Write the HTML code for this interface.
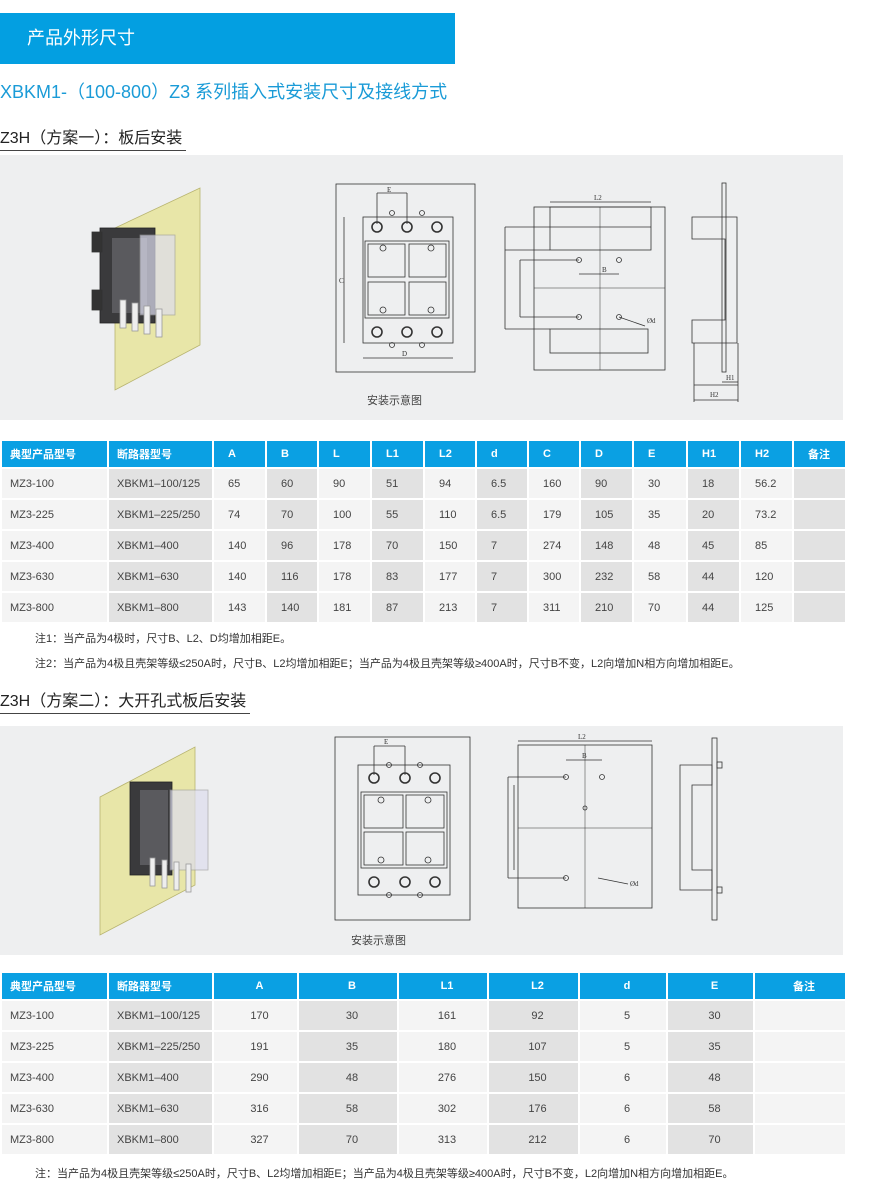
<!DOCTYPE html>
<html><head><meta charset="utf-8"><style>
body{margin:0;width:882px;height:1180px;background:#fff;position:relative;font-family:"Liberation Sans","Noto Sans CJK SC",sans-serif;overflow:hidden}
.a{position:absolute;white-space:nowrap}
.bar{left:0;top:13px;width:455px;height:51px;background:#039fe1;color:#fff;font-size:18px;line-height:51px;padding-left:27px;box-sizing:border-box}
.t{left:0;top:78px;color:#1a9bd7;font-size:18px}
.s{left:0;font-size:16px;color:#222;border-bottom:1px solid #444;padding-bottom:2px;padding-right:4px}
.p{left:0;width:843px;background:#eeeff0}
table{position:absolute;left:0;border-collapse:collapse;font-size:11px;color:#444;table-layout:fixed}
td,th{border:2px solid #fff;padding:0 0 0 8px;text-align:left;height:29px}
th{background:#0aa0e3;color:#fff;font-weight:bold;height:26px}
.t1 td:nth-child(n+3),.t1 th:nth-child(n+3){padding-left:14px}
td:nth-child(even){background:#e2e2e2}
td:nth-child(odd){background:#f4f4f4}
.n{left:35px;font-size:11px;color:#333}
</style></head><body>
<div class="a bar">产品外形尺寸</div>
<div class="a t">XBKM1-（100-800）Z3 系列插入式安装尺寸及接线方式</div>
<div class="a s" style="top:124px">Z3H（方案一）：板后安装</div>
<div class="a p" style="top:155px;height:265px"></div>
<div class="a" style="left:367px;top:392px;font-size:11px;color:#444">安装示意图</div>

<table class="t1" style="top:439px;width:845px">
<colgroup><col style="width:107px"><col style="width:105px"><col style="width:53px"><col style="width:52px"><col style="width:53px"><col style="width:53px"><col style="width:52px"><col style="width:52px"><col style="width:52px"><col style="width:53px"><col style="width:54px"><col style="width:53px"><col style="width:53px"><col style="width:53px"></colgroup>
<tr><th>典型产品型号</th><th>断路器型号</th><th>A</th><th>B</th><th>L</th><th>L1</th><th>L2</th><th>d</th><th>C</th><th>D</th><th>E</th><th>H1</th><th>H2</th><th>备注</th></tr>
<tr><td>MZ3-100</td><td>XBKM1–100/125</td><td>65</td><td>60</td><td>90</td><td>51</td><td>94</td><td>6.5</td><td>160</td><td>90</td><td>30</td><td>18</td><td>56.2</td><td></td></tr>
<tr><td>MZ3-225</td><td>XBKM1–225/250</td><td>74</td><td>70</td><td>100</td><td>55</td><td>110</td><td>6.5</td><td>179</td><td>105</td><td>35</td><td>20</td><td>73.2</td><td></td></tr>
<tr><td>MZ3-400</td><td>XBKM1–400</td><td>140</td><td>96</td><td>178</td><td>70</td><td>150</td><td>7</td><td>274</td><td>148</td><td>48</td><td>45</td><td>85</td><td></td></tr>
<tr><td>MZ3-630</td><td>XBKM1–630</td><td>140</td><td>116</td><td>178</td><td>83</td><td>177</td><td>7</td><td>300</td><td>232</td><td>58</td><td>44</td><td>120</td><td></td></tr>
<tr><td>MZ3-800</td><td>XBKM1–800</td><td>143</td><td>140</td><td>181</td><td>87</td><td>213</td><td>7</td><td>311</td><td>210</td><td>70</td><td>44</td><td>125</td><td></td></tr>
</table>
<div class="a n" style="top:630px">注1：当产品为4极时，尺寸B、L2、D均增加相距E。</div>
<div class="a n" style="top:655px">注2：当产品为4极且壳架等级≤250A时，尺寸B、L2均增加相距E；当产品为4极且壳架等级≥400A时，尺寸B不变，L2向增加N相方向增加相距E。</div>

<div class="a s" style="top:687px">Z3H（方案二）：大开孔式板后安装</div>
<div class="a p" style="top:726px;height:229px"></div>
<div class="a" style="left:351px;top:932px;font-size:11px;color:#444">安装示意图</div>

<table style="top:971px;width:845px">
<colgroup><col style="width:107px"><col style="width:105px"><col style="width:85px"><col style="width:100px"><col style="width:90px"><col style="width:91px"><col style="width:88px"><col style="width:87px"><col style="width:92px"></colgroup>
<tr><th>典型产品型号</th><th>断路器型号</th><th style="text-align:center">A</th><th style="text-align:center">B</th><th style="text-align:center">L1</th><th style="text-align:center">L2</th><th style="text-align:center">d</th><th style="text-align:center">E</th><th style="text-align:center">备注</th></tr>
<tr><td>MZ3-100</td><td>XBKM1–100/125</td><td style="text-align:center">170</td><td style="text-align:center">30</td><td style="text-align:center">161</td><td style="text-align:center">92</td><td style="text-align:center">5</td><td style="text-align:center">30</td><td></td></tr>
<tr><td>MZ3-225</td><td>XBKM1–225/250</td><td style="text-align:center">191</td><td style="text-align:center">35</td><td style="text-align:center">180</td><td style="text-align:center">107</td><td style="text-align:center">5</td><td style="text-align:center">35</td><td></td></tr>
<tr><td>MZ3-400</td><td>XBKM1–400</td><td style="text-align:center">290</td><td style="text-align:center">48</td><td style="text-align:center">276</td><td style="text-align:center">150</td><td style="text-align:center">6</td><td style="text-align:center">48</td><td></td></tr>
<tr><td>MZ3-630</td><td>XBKM1–630</td><td style="text-align:center">316</td><td style="text-align:center">58</td><td style="text-align:center">302</td><td style="text-align:center">176</td><td style="text-align:center">6</td><td style="text-align:center">58</td><td></td></tr>
<tr><td>MZ3-800</td><td>XBKM1–800</td><td style="text-align:center">327</td><td style="text-align:center">70</td><td style="text-align:center">313</td><td style="text-align:center">212</td><td style="text-align:center">6</td><td style="text-align:center">70</td><td></td></tr>
</table>
<div class="a n" style="top:1165px">注：当产品为4极且壳架等级≤250A时，尺寸B、L2均增加相距E；当产品为4极且壳架等级≥400A时，尺寸B不变，L2向增加N相方向增加相距E。</div>

<svg class="a" style="left:0;top:0" width="882" height="1180" fill="none" stroke="#333" stroke-width="0.8" font-family="Liberation Serif" font-size="7">
<polygon points="115,228 200,188 200,345 115,390" fill="#e8e6a8" stroke="#b8b470"/>
<rect x="100" y="228" width="55" height="95" fill="#3a3a3c" stroke="#222"/>
<rect x="112" y="238" width="35" height="75" fill="#5a5a5e" stroke="none"/>
<rect x="140" y="235" width="35" height="80" fill="#dde" stroke="#999" opacity="0.7"/>
<g stroke="#999" fill="#eee"><rect x="120" y="300" width="6" height="28"/><rect x="132" y="303" width="6" height="28"/><rect x="144" y="306" width="6" height="28"/><rect x="156" y="309" width="6" height="28"/></g>
<rect x="92" y="232" width="10" height="20" fill="#333"/><rect x="92" y="290" width="10" height="20" fill="#333"/>
<rect x="336" y="184" width="139" height="188"/>
<rect x="363" y="217" width="90" height="126"/>
<rect x="365" y="241" width="84" height="77"/>
<rect x="368" y="244" width="37" height="33"/><rect x="409" y="244" width="37" height="33"/>
<rect x="368" y="282" width="37" height="33"/><rect x="409" y="282" width="37" height="33"/>
<g stroke-width="1.6"><circle cx="377" cy="227" r="5"/><circle cx="407" cy="227" r="5"/><circle cx="437" cy="227" r="5"/><circle cx="377" cy="332" r="5"/><circle cx="407" cy="332" r="5"/><circle cx="437" cy="332" r="5"/></g>
<g><circle cx="392" cy="213" r="2.5"/><circle cx="422" cy="213" r="2.5"/><circle cx="392" cy="345" r="2.5"/><circle cx="422" cy="345" r="2.5"/><circle cx="383" cy="248" r="3"/><circle cx="431" cy="248" r="3"/><circle cx="383" cy="310" r="3"/><circle cx="431" cy="310" r="3"/></g>
<line x1="377" y1="193" x2="407" y2="193"/><line x1="377" y1="193" x2="377" y2="224"/><line x1="407" y1="193" x2="407" y2="224"/>
<line x1="344" y1="217" x2="344" y2="343"/><line x1="363" y1="358" x2="453" y2="358"/>
<text x="387" y="192" stroke="none" fill="#333">E</text><text x="339" y="283" stroke="none" fill="#333">C</text><text x="402" y="356" stroke="none" fill="#333">D</text>
<rect x="534" y="207" width="131" height="163"/>
<rect x="550" y="207" width="101" height="43"/><line x1="550" y1="227" x2="651" y2="227"/>
<rect x="550" y="329" width="98" height="24"/>
<line x1="600" y1="207" x2="600" y2="370" stroke-width="0.5"/><line x1="534" y1="288" x2="665" y2="288" stroke-width="0.5"/>
<line x1="550" y1="202" x2="651" y2="202"/><text x="594" y="200" stroke="none" fill="#333">L2</text>
<line x1="505" y1="227" x2="505" y2="329"/><line x1="520" y1="260" x2="520" y2="317"/>
<line x1="505" y1="227" x2="550" y2="227"/><line x1="505" y1="250" x2="550" y2="250"/><line x1="505" y1="329" x2="550" y2="329"/>
<line x1="520" y1="260" x2="579" y2="260"/><line x1="520" y1="317" x2="579" y2="317"/>
<circle cx="579" cy="260" r="2.5"/><circle cx="619" cy="260" r="2.5"/><circle cx="579" cy="317" r="2.5"/><circle cx="619" cy="317" r="2.5"/>
<line x1="579" y1="274" x2="619" y2="274"/><text x="602" y="272" stroke="none" fill="#333">B</text>
<line x1="619" y1="317" x2="645" y2="326"/><text x="647" y="323" stroke="none" fill="#333">Ød</text>
<rect x="722" y="183" width="4" height="189"/>
<polygon points="692,217 737,217 737,343 692,343 692,320 725,320 725,239 692,239"/>
<line x1="694" y1="385" x2="738" y2="385"/><line x1="722" y1="382" x2="738" y2="382"/><line x1="694" y1="400" x2="738" y2="400"/>
<text x="726" y="380" stroke="none" fill="#333">H1</text><text x="710" y="397" stroke="none" fill="#333">H2</text>
<line x1="694" y1="343" x2="694" y2="402"/><line x1="738" y1="343" x2="738" y2="402"/>

<polygon points="100,797 195,747 195,885 100,935" fill="#e8e6a8" stroke="#b8b470"/>
<rect x="130" y="782" width="42" height="93" fill="#3a3a3c" stroke="#222"/>
<rect x="140" y="790" width="28" height="75" fill="#5a5a5e" stroke="none"/>
<rect x="170" y="790" width="38" height="80" fill="#dde" stroke="#999" opacity="0.7"/>
<g stroke="#999" fill="#eee"><rect x="150" y="858" width="5" height="28"/><rect x="162" y="860" width="5" height="28"/><rect x="174" y="862" width="5" height="28"/><rect x="186" y="864" width="5" height="28"/></g>
<rect x="335" y="737" width="135" height="183"/>
<rect x="358" y="765" width="92" height="130"/>
<rect x="361" y="792" width="86" height="76"/>
<rect x="364" y="795" width="39" height="33"/><rect x="406" y="795" width="38" height="33"/>
<rect x="364" y="832" width="39" height="33"/><rect x="406" y="832" width="38" height="33"/>
<g stroke-width="1.6"><circle cx="374" cy="778" r="5"/><circle cx="405" cy="778" r="5"/><circle cx="435" cy="778" r="5"/><circle cx="374" cy="882" r="5"/><circle cx="405" cy="882" r="5"/><circle cx="435" cy="882" r="5"/></g>
<g><circle cx="389" cy="765" r="2.5"/><circle cx="420" cy="765" r="2.5"/><circle cx="389" cy="895" r="2.5"/><circle cx="420" cy="895" r="2.5"/><circle cx="381" cy="800" r="3"/><circle cx="428" cy="800" r="3"/><circle cx="381" cy="860" r="3"/><circle cx="428" cy="860" r="3"/></g>
<line x1="374" y1="746" x2="405" y2="746"/><line x1="374" y1="746" x2="374" y2="775"/><line x1="405" y1="746" x2="405" y2="775"/>
<text x="384" y="744" stroke="none" fill="#333">E</text>
<rect x="518" y="745" width="134" height="163"/>
<line x1="585" y1="745" x2="585" y2="908" stroke-width="0.5"/><line x1="518" y1="828" x2="652" y2="828" stroke-width="0.5"/>
<line x1="518" y1="741" x2="652" y2="741"/><text x="578" y="739" stroke="none" fill="#333">L2</text>
<circle cx="566" cy="777" r="2.5"/><circle cx="602" cy="777" r="2.5"/><circle cx="566" cy="878" r="2.5"/><circle cx="585" cy="808" r="2"/>
<line x1="566" y1="760" x2="602" y2="760"/><text x="582" y="758" stroke="none" fill="#333">B</text>
<line x1="508" y1="777" x2="566" y2="777"/><line x1="508" y1="878" x2="566" y2="878"/>
<line x1="508" y1="777" x2="508" y2="878"/><line x1="514" y1="785" x2="514" y2="870"/>
<line x1="598" y1="878" x2="628" y2="884"/><text x="630" y="886" stroke="none" fill="#333">Ød</text>
<rect x="712" y="738" width="5" height="182"/>
<polygon points="680,765 712,765 712,785 692,785 692,870 712,870 712,890 680,890"/>
<rect x="717" y="762" width="5" height="6"/><rect x="717" y="887" width="5" height="6"/>
</svg>
</body></html>
